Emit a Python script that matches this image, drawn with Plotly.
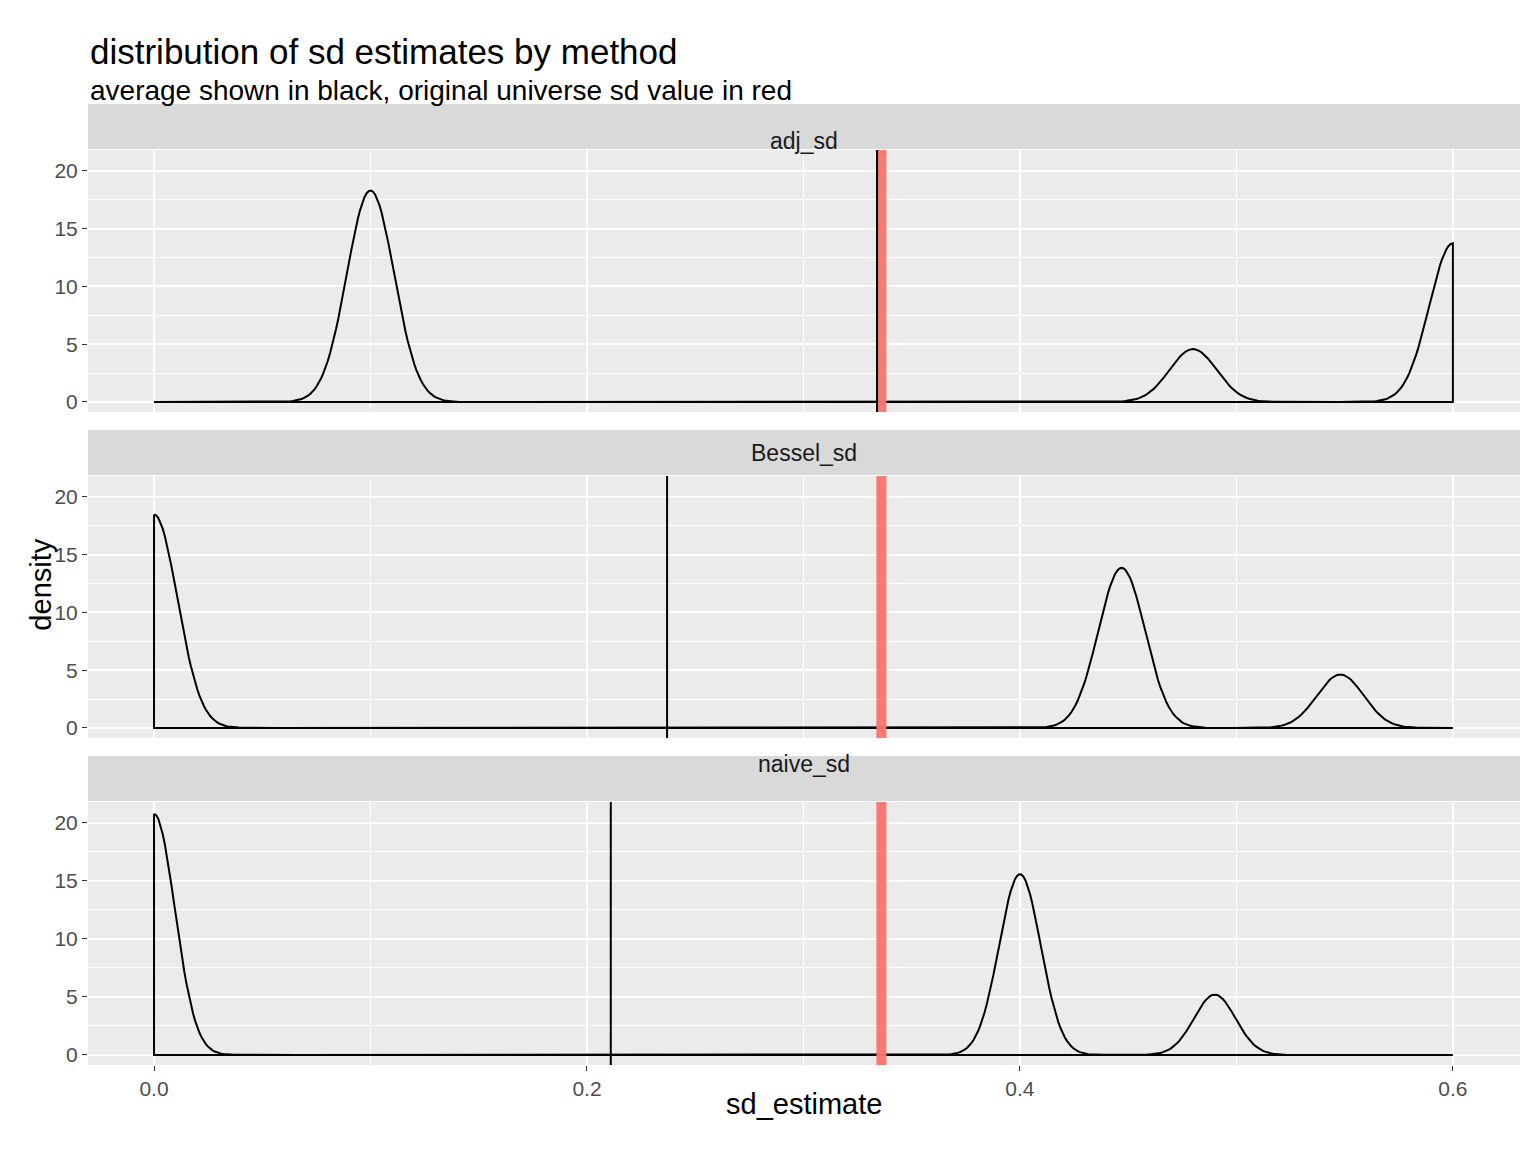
import numpy as np
import plotly.graph_objects as go

# sd estimates per method: distinct values, their share of samples, KDE bandwidth
methods = ["adj_sd", "Bessel_sd", "naive_sd"]
est_values = {"adj_sd": [0.1, 0.48, 0.6],
              "Bessel_sd": [0.0, 0.447, 0.548],
              "naive_sd": [0.0, 0.4, 0.49]}
est_weights = {"adj_sd": [0.5, 0.125, 0.375],
               "Bessel_sd": [0.5, 0.375, 0.125],
               "naive_sd": [0.5, 0.375, 0.125]}
bandwidth = {"adj_sd": 0.0109, "Bessel_sd": 0.0108, "naive_sd": 0.0096}
means = {"adj_sd": 0.334, "Bessel_sd": 0.237, "naive_sd": 0.211}
universe_sd = 0.336
x_lo, x_hi = 0.0, 0.6

# panel / strip domains in paper coords (top to bottom)
panel_dom = [(0.6795, 0.9521), (0.3403, 0.6129), (0.0, 0.2737)]
strip_dom = [(0.9532, 1.0), (0.6139, 0.6608), (0.2747, 0.3215)]

fig = go.Figure()
grid = np.linspace(x_lo, x_hi, 600)
for i, m in enumerate(methods):
    ax = "" if i == 0 else str(i + 1)
    v = np.array(est_values[m]); w = np.array(est_weights[m]); bw = bandwidth[m]
    dens = (w[:, None] * np.exp(-0.5 * ((grid[None, :] - v[:, None]) / bw) ** 2)
            / (bw * np.sqrt(2 * np.pi))).sum(axis=0)
    xs = np.concatenate([grid, [x_hi, x_lo, x_lo]])
    ys = np.concatenate([dens, [0, 0, dens[0]]])
    # red universe sd, black average
    fig.add_shape(type="line", xref="x" + ax, yref="y" + ax + " domain",
                  x0=universe_sd, x1=universe_sd, y0=0, y1=1,
                  line=dict(color="#F8766D", width=10), opacity=0.95)
    fig.add_shape(type="line", xref="x" + ax, yref="y" + ax + " domain",
                  x0=means[m], x1=means[m], y0=0, y1=1,
                  line=dict(color="black", width=2))
    fig.add_trace(go.Scatter(x=xs, y=ys, mode="lines", xaxis="x" + ax, yaxis="y" + ax,
                             line=dict(color="black", width=2), showlegend=False,
                             hoverinfo="skip"))
    fig.add_shape(type="rect", xref="paper", yref="paper", x0=0, x1=1,
                  y0=strip_dom[i][0], y1=strip_dom[i][1],
                  fillcolor="#D9D9D9", line=dict(width=0))
    fig.add_annotation(text=m, xref="paper", yref="paper", x=0.5,
                       y=sum(strip_dom[i]) / 2, showarrow=False,
                       font=dict(size=23, color="#1A1A1A"))
    fig.layout["xaxis" + ax] = dict(
        domain=[0, 1], anchor="y" + ax, matches=None if i == 0 else "x",
        range=[-0.0305, 0.631], tickvals=[0, 0.2, 0.4, 0.6],
        ticktext=["0.0", "0.2", "0.4", "0.6"] if i == 2 else [""] * 4,
        showgrid=True, gridcolor="white", gridwidth=2, zeroline=False,
        minor=dict(tickvals=[0.1, 0.3, 0.5], showgrid=True, gridcolor="white",
                   gridwidth=1, ticks=""),
        ticks="outside" if i == 2 else "", ticklen=5, tickcolor="#333333",
        tickfont=dict(size=21, color="#4D4D4D"))
    fig.layout["yaxis" + ax] = dict(
        domain=list(panel_dom[i]), anchor="x" + ax, range=[-0.87, 21.8],
        tickvals=[0, 5, 10, 15, 20], showgrid=True, gridcolor="white", gridwidth=2,
        zeroline=False,
        minor=dict(tickvals=[2.5, 7.5, 12.5, 17.5], showgrid=True, gridcolor="white",
                   gridwidth=1, ticks=""),
        ticks="outside", ticklen=5, tickcolor="#333333",
        tickfont=dict(size=21, color="#4D4D4D"))

fig.add_annotation(text="sd_estimate", xref="paper", yref="paper", x=0.5, y=-0.059,
                   showarrow=False, font=dict(size=29, color="black"))
fig.add_annotation(text="density", xref="paper", yref="paper", x=-0.046, y=0.5,
                   textangle=-90, showarrow=False, font=dict(size=29, color="black"))
fig.add_annotation(text="distribution of sd estimates by method", xref="paper",
                   yref="paper", x=0, y=1.077, xanchor="left", showarrow=False,
                   font=dict(size=35, color="black"))
fig.add_annotation(text="average shown in black, original universe sd value in red",
                   xref="paper", yref="paper", x=0, y=1.032, xanchor="left",
                   showarrow=False, font=dict(size=28, color="black"))

fig.update_layout(width=1536, height=1152, paper_bgcolor="white",
                  plot_bgcolor="#EBEBEB", margin=dict(l=80, r=24, t=96, b=95),
                  font=dict(family="Liberation Sans, Arial, sans-serif"))
fig.write_html("out.html")
